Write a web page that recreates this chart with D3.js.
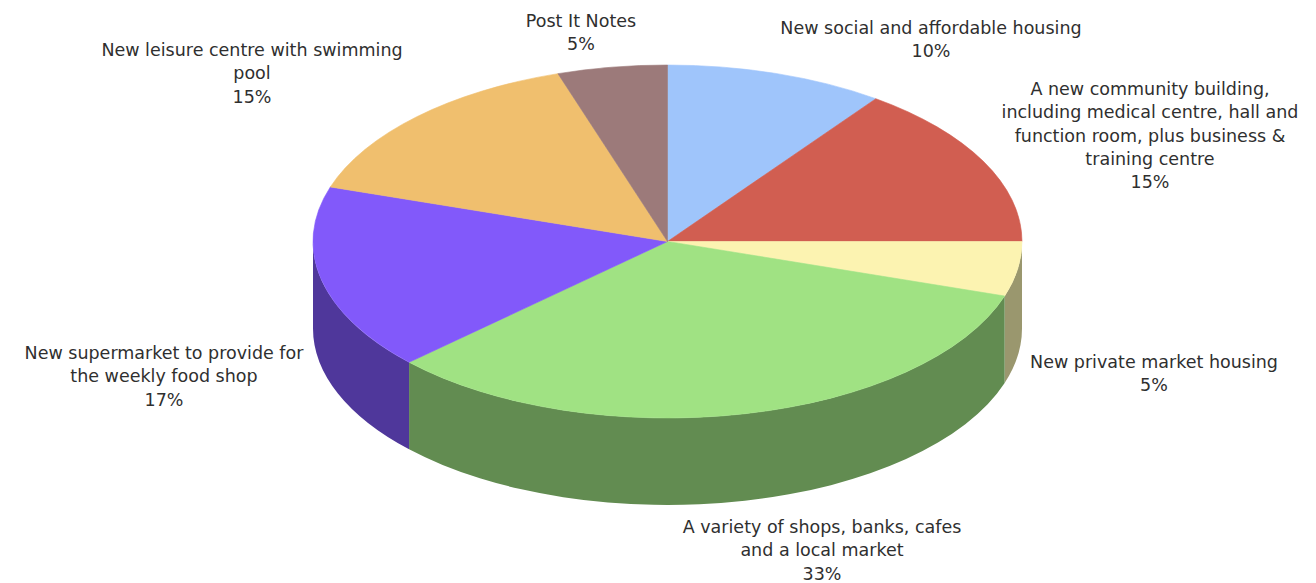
<!DOCTYPE html>
<html>
<head>
<meta charset="utf-8">
<script src="https://cdn.jsdelivr.net/npm/d3@7"></script>
<style>
  html, body { margin: 0; padding: 0; background: #fff; }
  svg { display: block; }
  text { font-family: "DejaVu Sans", Verdana, sans-serif; fill: #2f2f2f; }
</style>
</head>
<body>
<svg id="chart" width="1316" height="583"></svg>
<script>
// Survey answers, clockwise from 12 o'clock
const categories = [
  "New social and affordable housing",
  "A new community building,\nincluding medical centre, hall and\nfunction room, plus business &\ntraining centre",
  "New private market housing",
  "A variety of shops, banks, cafes\nand a local market",
  "New supermarket to provide for\nthe weekly food shop",
  "New leisure centre with swimming\npool",
  "Post It Notes"
];
const values = [10, 15, 5, 33, 17, 15, 5];
const topColors = ["#9fc5fb", "#d15e51", "#fcf3b1", "#a0e283", "#8259fa", "#f0bf6e", "#9c7a7a"];

// Label anchors: centre x and first baseline y for each label block
const labelAnchors = [
  [931, 34], [1150, 95], [1154, 368], [822, 533], [164, 359], [252, 56], [581, 27]
];

const cx = 667.5, cy = 241.5, rx = 354.5, ry = 176.5, depth = 87;
const lineH = 23.3;

const svg = d3.select("#chart");

const pie = d3.pie().sort(null).value(d => d).startAngle(0).endAngle(2 * Math.PI);
const arcs = pie(values);

// Project a pie angle onto the tilted ellipse
const px = a => cx + rx * Math.sin(a);
const py = a => cy - ry * Math.cos(a);

const sideColor = c => {
  const k = d3.rgb(c);
  return d3.rgb(k.r * 0.61, k.g * 0.62, k.b * 0.62).formatHex();
};

// Outer walls: only the front half (angles between 90° and 270°) is visible
const sides = svg.append("g");
arcs.forEach((d, i) => {
  const a0 = Math.max(d.startAngle, Math.PI / 2);
  const a1 = Math.min(d.endAngle, 3 * Math.PI / 2);
  if (a1 <= a0) return;
  const large = (a1 - a0) > Math.PI ? 1 : 0;
  const path =
    `M${px(a0)},${py(a0)}` +
    `A${rx},${ry} 0 ${large} 1 ${px(a1)},${py(a1)}` +
    `L${px(a1)},${py(a1) + depth}` +
    `A${rx},${ry} 0 ${large} 0 ${px(a0)},${py(a0) + depth}Z`;
  sides.append("path").attr("d", path).attr("fill", sideColor(topColors[i]));
});

// Top faces
const tops = svg.append("g");
arcs.forEach((d, i) => {
  const a0 = d.startAngle, a1 = d.endAngle;
  const large = (a1 - a0) > Math.PI ? 1 : 0;
  const path =
    `M${cx},${cy}L${px(a0)},${py(a0)}` +
    `A${rx},${ry} 0 ${large} 1 ${px(a1)},${py(a1)}Z`;
  tops.append("path").attr("d", path).attr("fill", topColors[i])
    .attr("stroke", topColors[i]).attr("stroke-width", 0.6);
});

// Labels: category name lines followed by the percentage
const labels = svg.append("g").attr("font-size", 17.5).attr("text-anchor", "middle");
categories.forEach((name, i) => {
  const [lx, ly] = labelAnchors[i];
  const lines = name.split("\n").concat([values[i] + "%"]);
  const t = labels.append("text").attr("x", lx).attr("y", ly);
  lines.forEach((ln, j) => {
    t.append("tspan").attr("x", lx).attr("y", ly + j * lineH).text(ln);
  });
});
</script>
</body>
</html>
